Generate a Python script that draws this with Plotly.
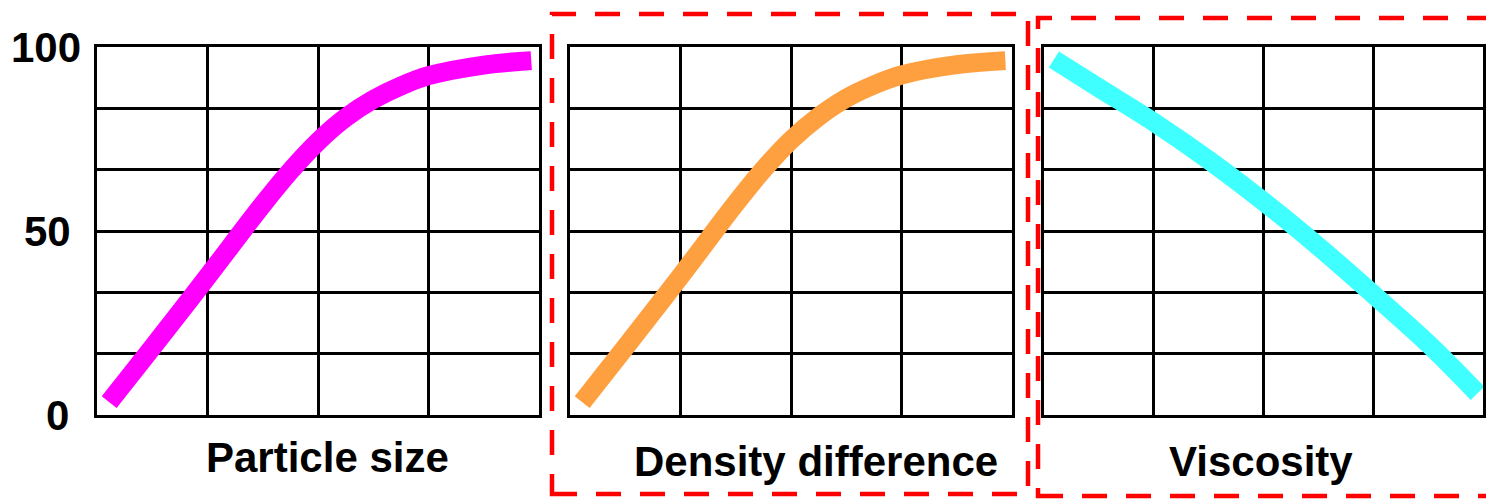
import plotly.graph_objects as go

# ---- data ----
size_x = [0.11, 0.5, 1.0, 1.5, 1.75, 2.0, 2.25, 2.5, 2.75, 3.0, 3.5, 3.93]
size_y = [3.5, 18.3, 37.6, 57.2, 66.3, 74.3, 80.8, 85.7, 89.4, 92.2, 95.1, 96.3]

dens_x = [0.11, 0.5, 1.0, 1.5, 1.75, 2.0, 2.25, 2.5, 2.75, 3.0, 3.5, 3.94]
dens_y = [3.5, 18.4, 37.7, 57.5, 66.7, 74.7, 81.1, 86.1, 89.7, 92.4, 95.2, 96.3]

visc_x = [0.09, 0.5, 1.0, 1.5, 2.0, 2.5, 3.0, 3.5, 3.95]
visc_y = [96.6, 88.9, 79.6, 69.3, 58.0, 45.8, 32.8, 19.4, 5.9]

panel_titles = ["Particle size", "Density difference", "Viscosity"]
y_tick_vals = [100, 50, 0]
y_tick_text = ["100", "50", "0"]

# page body has an 8px margin: compensate so the picture lands where intended
OFF = 8
W, H = 1494 - OFF, 499 - OFF
def px(x):
    return (x - OFF) / W
def py(y):
    return 1 - (y - OFF) / H

colors = ["#FF00FF", "#FFA040", "#40FFFF"]
series = [(size_x, size_y), (dens_x, dens_y), (visc_x, visc_y)]
domains = [(97, 539), (570, 1012), (1044, 1483)]
ydom = [py(415), py(47)]

fig = go.Figure()
for i, ((xs, ys), c) in enumerate(zip(series, colors)):
    sfx = "" if i == 0 else str(i + 1)
    fig.add_trace(go.Scatter(
        x=xs, y=ys, mode="lines",
        line=dict(color=c, width=19, shape="spline", smoothing=1.0),
        xaxis="x" + sfx, yaxis="y" + sfx, showlegend=False, hoverinfo="skip",
    ))

layout = dict(
    width=W, height=H,
    margin=dict(l=0, r=0, t=0, b=0),
    paper_bgcolor="white", plot_bgcolor="white",
    showlegend=False,
)
for i, (a, b) in enumerate(domains):
    sfx = "" if i == 0 else str(i + 1)
    layout["xaxis" + sfx] = dict(
        domain=[px(a), min(px(b), 1.0)], range=[0, 4], dtick=1, tick0=0,
        showgrid=True, gridcolor="black", gridwidth=2.5,
        showline=True, mirror=True, linecolor="black", linewidth=3,
        zeroline=False, showticklabels=False, ticks="",
        anchor="y" + sfx, fixedrange=True,
    )
    layout["yaxis" + sfx] = dict(
        domain=ydom, range=[0, 100], dtick=100 / 6, tick0=0,
        showgrid=True, gridcolor="black", gridwidth=2.5,
        showline=True, mirror=True, linecolor="black", linewidth=3,
        zeroline=False, showticklabels=False, ticks="",
        anchor="x" + sfx, fixedrange=True,
    )

fig.update_layout(**layout)

font = dict(family="Liberation Sans, Arial, sans-serif", size=42, color="black", weight="bold")

# y tick labels (panel 1)
tick_right = [83, 73, 71]
for v, t, r in zip(y_tick_vals, y_tick_text, tick_right):
    fig.add_annotation(text=t, xref="paper", yref="y", x=px(r), y=v,
                       xanchor="right", yanchor="middle", showarrow=False, font=font)

# panel titles
title_pos = [(327, 457), (816, 461), (1261, 461)]
for t, (cx, cy) in zip(panel_titles, title_pos):
    fig.add_annotation(text=t, xref="paper", yref="paper", x=px(cx), y=py(cy),
                       xanchor="center", yanchor="middle", showarrow=False, font=font)

# red dashed frames
dash = "25px,19px"
fig.add_shape(type="rect", xref="paper", yref="paper",
              x0=px(552), x1=px(1028), y0=py(494), y1=py(14),
              line=dict(color="#FF0000", width=4.5, dash=dash), layer="above")
fig.add_shape(type="rect", xref="paper", yref="paper",
              x0=px(1038), x1=px(1510), y0=py(496), y1=py(18),
              line=dict(color="#FF0000", width=4.5, dash=dash), layer="above")

fig.write_html("out.html")
